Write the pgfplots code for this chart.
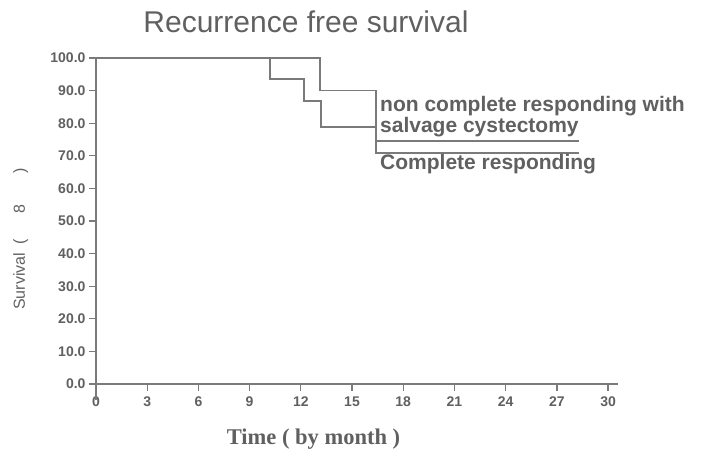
\documentclass[border=0pt]{standalone}
\usepackage{fontspec}
\setmainfont{Liberation Sans}
\newfontfamily\serifbf{Liberation Serif}
\usepackage{pgfplots}
\pgfplotsset{compat=1.18}
\definecolor{lgray}{HTML}{7A7A7A}
\definecolor{tgray}{HTML}{606060}
\begin{document}
\begin{tikzpicture}
\path[use as bounding box] (-96pt,-70pt) rectangle (611pt,384pt);
\begin{axis}[
  at={(0pt,0pt)}, anchor=south west,
  scale only axis, width=522.3pt, height=326pt,
  xmin=0, xmax=30.6, ymin=0, ymax=100,
  axis lines=left, axis line style={-, lgray, line width=1.6pt},
  clip=false,
  xtick={0,3,...,30}, ytick={0,10,...,100},
  tick align=outside, major tick length=7pt,
  tick style={lgray, line width=1.3pt},
  /pgf/number format/assume math mode=true,
  ticklabel style={font=\bfseries\fontsize{14}{14}\selectfont, text=tgray},
  yticklabel style={/pgf/number format/fixed, /pgf/number format/fixed zerofill, /pgf/number format/precision=1},
  xticklabel style={yshift=-2pt},
]
\addplot[const plot, lgray, line width=1.8pt] coordinates {(0,100) (13.1,90) (16.4,74.5) (28.3,74.5)};
\addplot[const plot, lgray, line width=1.8pt] coordinates {(0,100) (10.2,93.6) (12.2,86.8) (13.2,78.8) (16.4,70.9) (28.3,70.9)};
\draw[lgray, line width=1.6pt] (axis cs:0,0) -- (axis cs:0,-4.9);
\end{axis}
\node[anchor=base, text=tgray, font=\fontsize{30}{30}\selectfont] at (210pt,351pt) {Recurrence free survival};
\node[anchor=base, text=tgray, font=\serifbf\bfseries\fontsize{22.5}{22.5}\selectfont] at (217.5pt,-61pt) {Time ( by month )};
\node[anchor=base west, rotate=90, text=tgray, font=\fontsize{16}{16}\selectfont, inner sep=0pt] at (-71pt,74pt) {Survival\hspace{8pt}(\hspace{26pt}8\hspace{31pt})};
\node[anchor=base west, inner sep=0pt, text=tgray, font=\bfseries\fontsize{21}{21}\selectfont] at (284pt,272pt) {non complete responding with};
\node[anchor=base west, inner sep=0pt, text=tgray, font=\bfseries\fontsize{21}{21}\selectfont] at (284pt,251pt) {salvage cystectomy};
\node[anchor=base west, inner sep=0pt, text=tgray, font=\bfseries\fontsize{21}{21}\selectfont] at (284pt,214pt) {Complete responding};
\end{tikzpicture}
\end{document}
